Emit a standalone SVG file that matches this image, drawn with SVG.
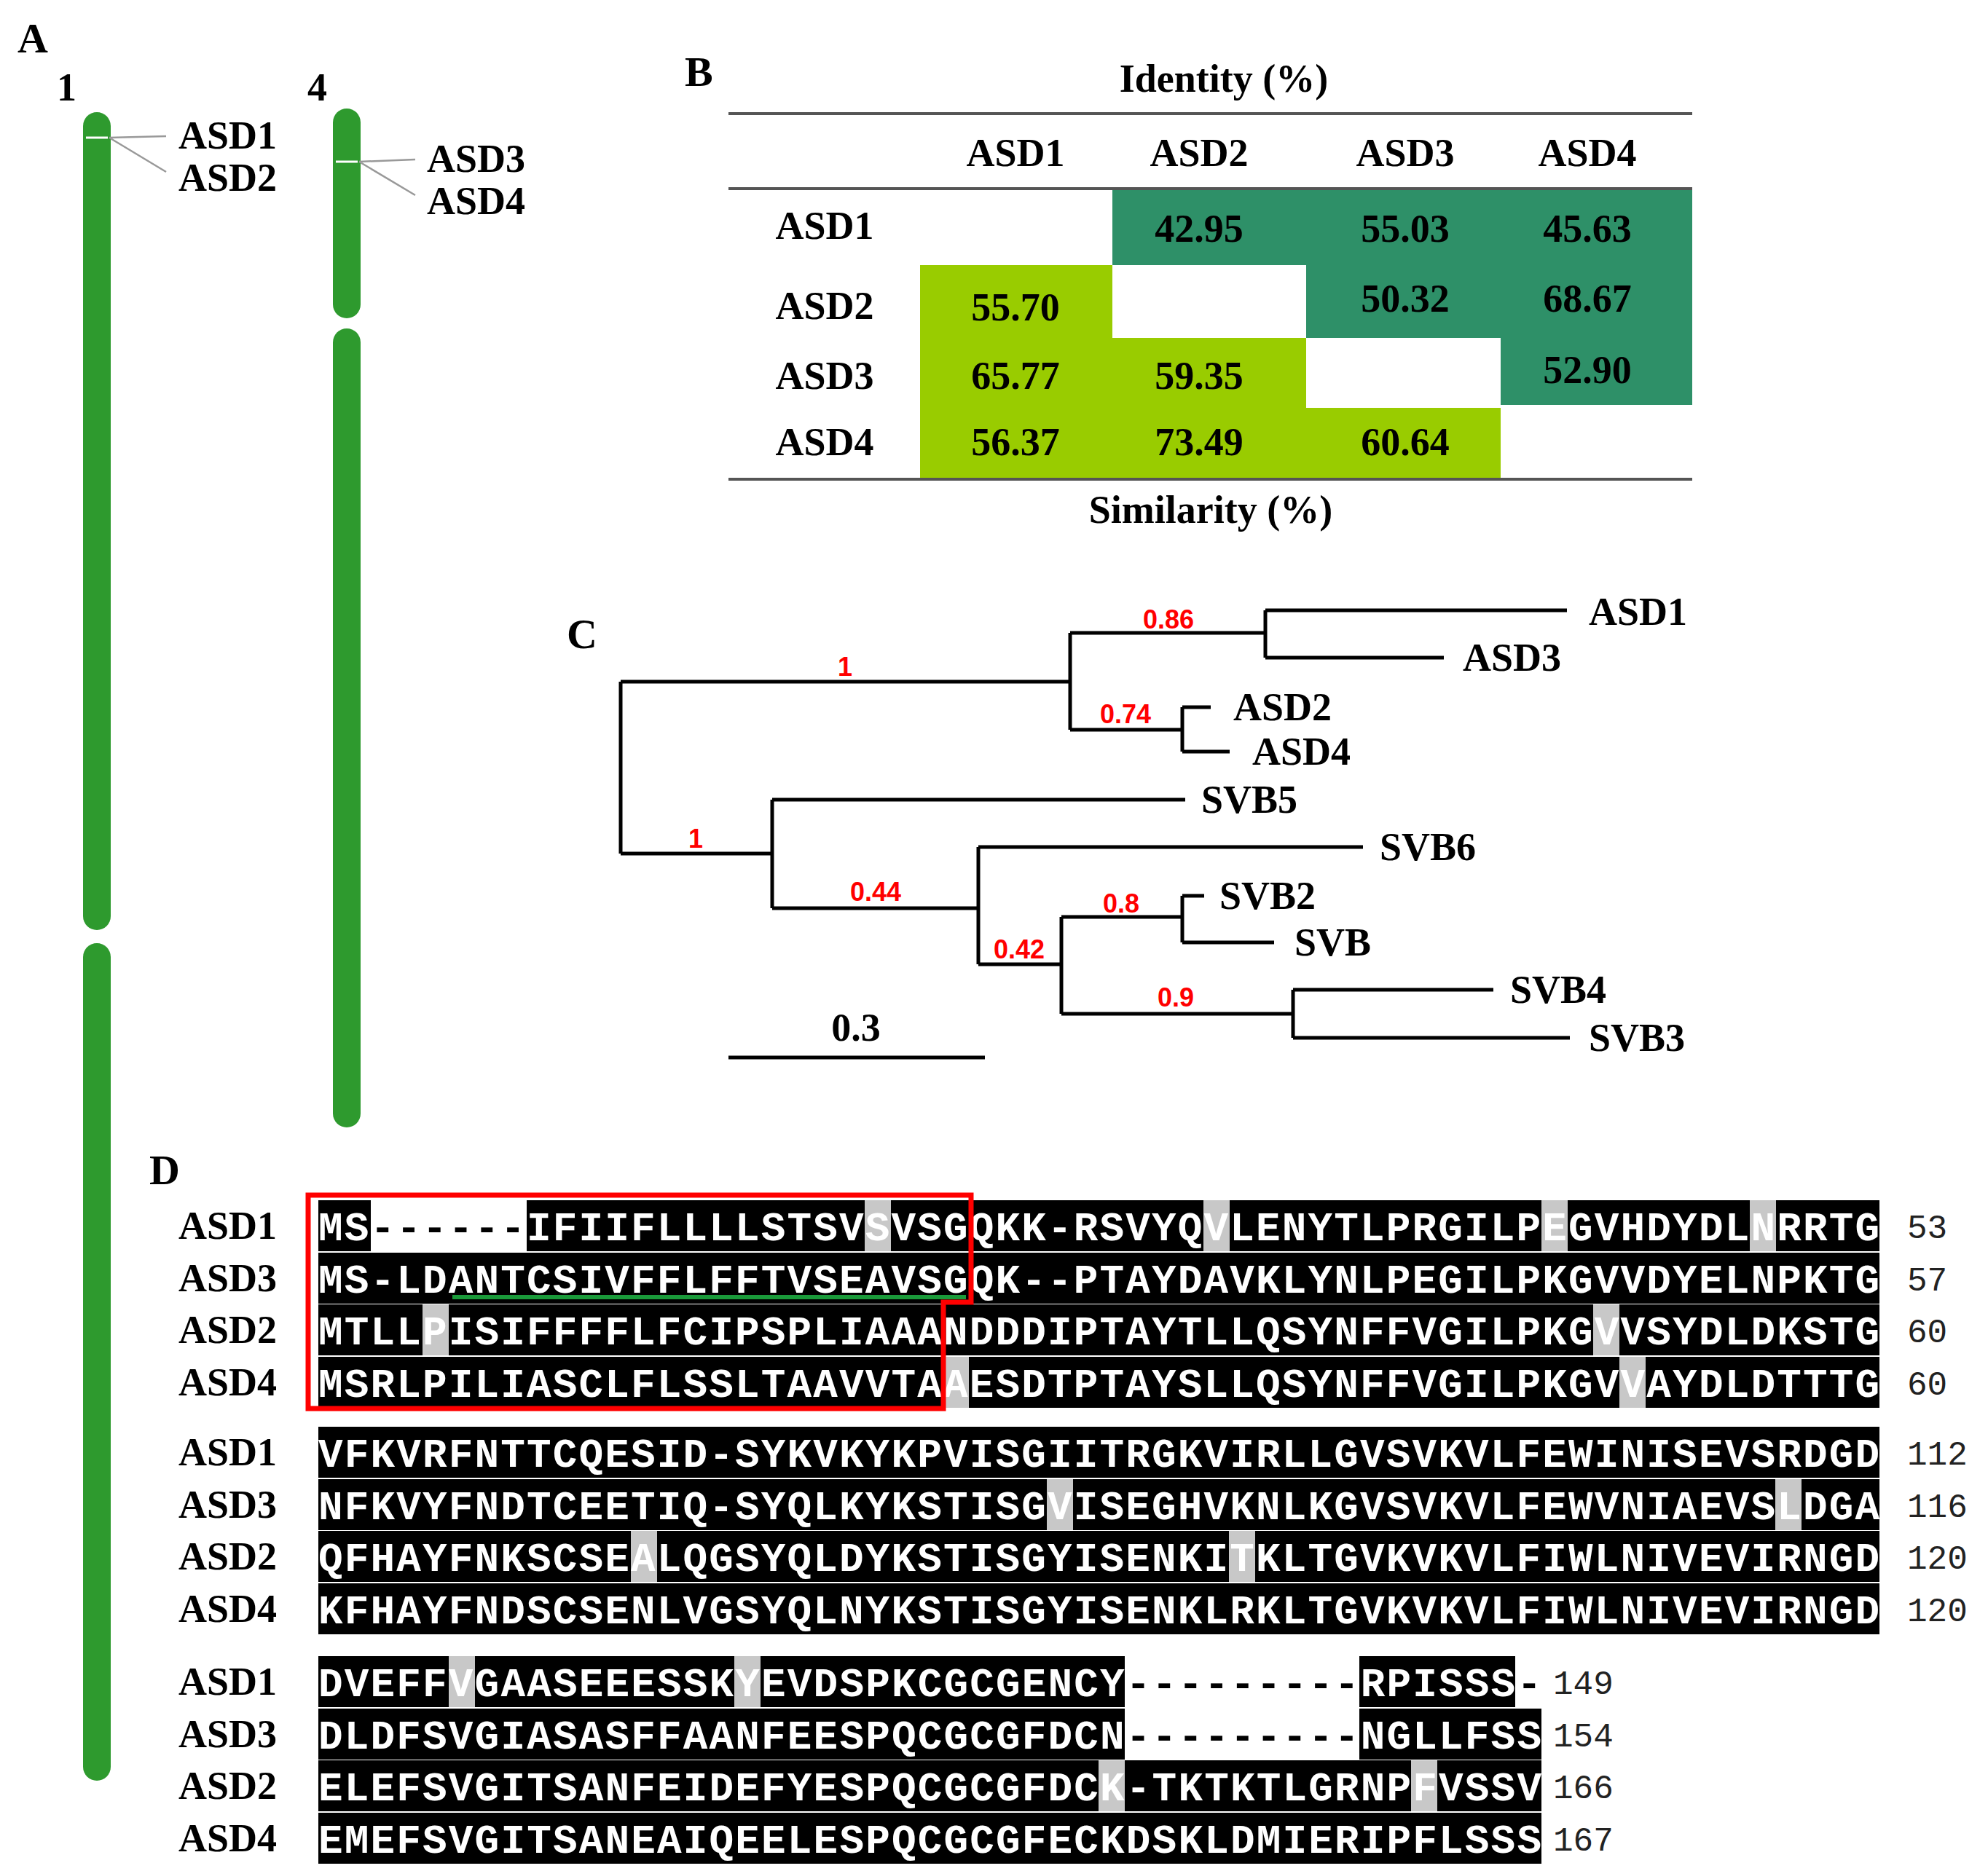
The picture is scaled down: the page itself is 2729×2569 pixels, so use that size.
<svg xmlns="http://www.w3.org/2000/svg" width="2729" height="2569" viewBox="0 0 2729 2569">
<style>
.s{font-family:"Liberation Serif",serif;font-weight:bold;fill:#000}
.pl{font-size:58px}
.lb{font-size:54px}
.r{font-family:"Liberation Sans",sans-serif;font-weight:bold;font-size:36px;fill:#ff0000}
.br{stroke:#000;stroke-width:5;fill:none}
.al{font-family:"Liberation Mono",monospace;font-weight:bold;font-size:56px;fill:#fff}
.d{fill:#000}
.n{font-family:"Liberation Mono",monospace;font-size:46px;fill:#222}
.chr{fill:#2e9a2e}
.gl{stroke:#999;stroke-width:2.5;fill:none}
</style>
<rect width="2729" height="2569" fill="#fff"/>
<g id="panelA">
<text class="s pl" x="24" y="72">A</text>
<text class="s lb" x="78" y="138">1</text>
<text class="s lb" x="422" y="138">4</text>
<rect class="chr" x="114" y="154" width="38" height="1123" rx="19"/>
<rect class="chr" x="114" y="1295" width="38" height="1150" rx="19"/>
<rect class="chr" x="457" y="149" width="38" height="288" rx="19"/>
<rect class="chr" x="457" y="451" width="38" height="1097" rx="19"/>
<line x1="118" y1="189" x2="148" y2="189" stroke="#fff" stroke-width="3"/>
<line x1="461" y1="222" x2="491" y2="222" stroke="#fff" stroke-width="3"/>
<path class="gl" d="M150 189 L228 187 M150 189 L228 236"/>
<path class="gl" d="M493 222 L570 219 M493 222 L570 268"/>
<text class="s lb" x="245" y="204">ASD1</text>
<text class="s lb" x="245" y="262">ASD2</text>
<text class="s lb" x="586" y="236">ASD3</text>
<text class="s lb" x="586" y="294">ASD4</text>
</g>
<g id="panelB">
<text class="s pl" x="940" y="118">B</text>
<text class="s lb" x="1680" y="126" text-anchor="middle">Identity (%)</text>
<line x1="1000" y1="156" x2="2323" y2="156" stroke="#555" stroke-width="4"/>
<line x1="1000" y1="259" x2="2323" y2="259" stroke="#555" stroke-width="4"/>
<rect x="1527" y="261" width="796" height="103" fill="#2e9068"/>
<rect x="1793" y="364" width="530" height="100" fill="#2e9068"/>
<rect x="2060" y="464" width="263" height="92" fill="#2e9068"/>
<rect x="1263" y="364" width="264" height="100" fill="#99cc00"/>
<rect x="1263" y="464" width="530" height="96" fill="#99cc00"/>
<rect x="1263" y="560" width="797" height="98" fill="#99cc00"/>
<line x1="1000" y1="658" x2="2323" y2="658" stroke="#555" stroke-width="4"/>
<g class="s lb" text-anchor="middle">
<text x="1394" y="228">ASD1</text><text x="1646" y="228">ASD2</text><text x="1929" y="228">ASD3</text><text x="2179" y="228">ASD4</text>
<text x="1132" y="328">ASD1</text><text x="1132" y="438">ASD2</text><text x="1132" y="534">ASD3</text><text x="1132" y="625">ASD4</text>
<text x="1646" y="332">42.95</text><text x="1929" y="332">55.03</text><text x="2179" y="332">45.63</text>
<text x="1394" y="440">55.70</text><text x="1929" y="428">50.32</text><text x="2179" y="428">68.67</text>
<text x="1394" y="534">65.77</text><text x="1646" y="534">59.35</text><text x="2179" y="526">52.90</text>
<text x="1394" y="625">56.37</text><text x="1646" y="625">73.49</text><text x="1929" y="625">60.64</text>
<text x="1662" y="718">Similarity (%)</text>
</g>
</g>
<g id="panelC">
<text class="s pl" x="778" y="890">C</text>
<path class="br" d="M852 936 V1172 M852 936 H1469 M1469 869 V1002 M1469 869 H1737 M1737 838 V903 M1737 838 H2151 M1737 903 H1982 M1469 1002 H1623 M1623 971 V1032 M1623 971 H1662 M1623 1032 H1688 M852 1172 H1060 M1060 1098 V1247 M1060 1098 H1627 M1060 1247 H1343 M1343 1163 V1324 M1343 1163 H1871 M1343 1324 H1457 M1457 1259 V1392 M1457 1259 H1623 M1623 1230 V1294 M1623 1230 H1653 M1623 1294 H1749 M1457 1392 H1775 M1775 1359 V1425 M1775 1359 H2050 M1775 1425 H2155 M1000 1452 H1352"/>
<g class="s lb">
<text x="2181" y="858">ASD1</text><text x="2008" y="921">ASD3</text><text x="1693" y="989">ASD2</text><text x="1719" y="1050">ASD4</text>
<text x="1649" y="1116">SVB5</text><text x="1894" y="1181">SVB6</text><text x="1674" y="1248">SVB2</text><text x="1777" y="1312">SVB</text>
<text x="2073" y="1377">SVB4</text><text x="2181" y="1443">SVB3</text>
<text x="1175" y="1429" text-anchor="middle">0.3</text>
</g>
<g class="r" text-anchor="middle">
<text x="1160" y="928">1</text><text x="1604" y="863">0.86</text><text x="1545" y="993">0.74</text>
<text x="955" y="1164">1</text><text x="1202" y="1237">0.44</text><text x="1399" y="1316">0.42</text>
<text x="1539" y="1253">0.8</text><text x="1614" y="1382">0.9</text>
</g>
</g>
<g id="panelD">
<text class="s pl" x="205" y="1626">D</text>
<g class="s lb">
<text x="245" y="1701">ASD1</text><text x="245" y="1773">ASD3</text><text x="245" y="1844">ASD2</text><text x="245" y="1916">ASD4</text>
<text x="245" y="2012">ASD1</text><text x="245" y="2084">ASD3</text><text x="245" y="2155">ASD2</text><text x="245" y="2227">ASD4</text>
<text x="245" y="2327">ASD1</text><text x="245" y="2399">ASD3</text><text x="245" y="2470">ASD2</text><text x="245" y="2542">ASD4</text>
</g>
<g fill="#000">
<rect x="437" y="1648" width="72" height="70"/><rect x="723" y="1648" width="1857" height="70"/>
<rect x="437" y="1720" width="2143" height="70"/>
<rect x="437" y="1791" width="2143" height="70"/>
<rect x="437" y="1863" width="2143" height="70"/>
<rect x="437" y="1959" width="2143" height="70"/>
<rect x="437" y="2031" width="2143" height="70"/>
<rect x="437" y="2102" width="2143" height="70"/>
<rect x="437" y="2174" width="2143" height="70"/>
<rect x="437" y="2274" width="1107" height="70"/><rect x="1866" y="2274" width="214" height="70"/>
<rect x="437" y="2346" width="1107" height="70"/><rect x="1866" y="2346" width="250" height="70"/>
<rect x="437" y="2417" width="2143" height="70" transform="scale(1)" style="display:none"/>
<rect x="437" y="2417" width="1679" height="70"/>
<rect x="437" y="2489" width="1679" height="70"/>
</g>
<g fill="#c8c8c8">
<rect x="1187" y="1648" width="36" height="70"/><rect x="1652" y="1648" width="36" height="70"/><rect x="2116" y="1648" width="36" height="70"/><rect x="2402" y="1648" width="36" height="70"/>
<rect x="580" y="1791" width="36" height="70"/><rect x="2187" y="1791" width="36" height="70"/>
<rect x="1294" y="1863" width="36" height="70"/><rect x="2223" y="1863" width="36" height="70"/>
<rect x="1437" y="2031" width="36" height="70"/><rect x="2437" y="2031" width="36" height="70"/>
<rect x="866" y="2102" width="36" height="70"/><rect x="1687" y="2102" width="36" height="70"/>
<rect x="616" y="2274" width="36" height="70"/><rect x="1008" y="2274" width="36" height="70"/>
<rect x="1508" y="2417" width="36" height="70"/><rect x="1937" y="2417" width="36" height="70"/>
</g>
<g class="al">
<text x="437" y="1703" textLength="2143" lengthAdjust="spacing">MS<tspan class="d">------</tspan>IFIIFLLLLSTSVSVSGQKK-RSVYQVLENYTLPRGILPEGVHDYDLNRRTG</text>
<text x="437" y="1775" textLength="2143" lengthAdjust="spacing">MS-LDANTCSIVFFLFFTVSEAVSGQK--PTAYDAVKLYNLPEGILPKGVVDYELNPKTG</text>
<text x="437" y="1846" textLength="2143" lengthAdjust="spacing">MTLLPISIFFFFLFCIPSPLIAAANDDDIPTAYTLLQSYNFFVGILPKGVVSYDLDKSTG</text>
<text x="437" y="1918" textLength="2143" lengthAdjust="spacing">MSRLPILIASCLFLSSLTAAVVTAAESDTPTAYSLLQSYNFFVGILPKGVVAYDLDTTTG</text>
<text x="437" y="2014" textLength="2143" lengthAdjust="spacing">VFKVRFNTTCQESID-SYKVKYKPVISGIITRGKVIRLLGVSVKVLFEWINISEVSRDGD</text>
<text x="437" y="2086" textLength="2143" lengthAdjust="spacing">NFKVYFNDTCEETIQ-SYQLKYKSTISGVISEGHVKNLKGVSVKVLFEWVNIAEVSLDGA</text>
<text x="437" y="2157" textLength="2143" lengthAdjust="spacing">QFHAYFNKSCSEALQGSYQLDYKSTISGYISENKITKLTGVKVKVLFIWLNIVEVIRNGD</text>
<text x="437" y="2229" textLength="2143" lengthAdjust="spacing">KFHAYFNDSCSENLVGSYQLNYKSTISGYISENKLRKLTGVKVKVLFIWLNIVEVIRNGD</text>
<text x="437" y="2329" textLength="1679" lengthAdjust="spacing">DVEFFVGAASEEESSKYEVDSPKCGCGENCY<tspan class="d">---------</tspan>RPISSS<tspan class="d">-</tspan></text>
<text x="437" y="2401" textLength="1679" lengthAdjust="spacing">DLDFSVGIASASFFAANFEESPQCGCGFDCN<tspan class="d">---------</tspan>NGLLFSS</text>
<text x="437" y="2472" textLength="1679" lengthAdjust="spacing">ELEFSVGITSANFEIDEFYESPQCGCGFDCK-TKTKTLGRNPFVSSV</text>
<text x="437" y="2544" textLength="1679" lengthAdjust="spacing">EMEFSVGITSANEAIQEELESPQCGCGFECKDSKLDMIERIPFLSSS</text>
</g>
<g class="n">
<text x="2618" y="1700">53</text><text x="2618" y="1772">57</text><text x="2618" y="1843">60</text><text x="2618" y="1915">60</text>
<text x="2618" y="2011">112</text><text x="2618" y="2083">116</text><text x="2618" y="2154">120</text><text x="2618" y="2226">120</text>
<text x="2132" y="2326">149</text><text x="2132" y="2398">154</text><text x="2132" y="2469">166</text><text x="2132" y="2541">167</text>
</g>
<line x1="621" y1="1781" x2="1326" y2="1781" stroke="#1a9a3a" stroke-width="6"/>
<path d="M423 1641 H1333 V1788 H1295 V1934 H423 Z" fill="none" stroke="#ff0000" stroke-width="7"/>
</g>
</svg>
